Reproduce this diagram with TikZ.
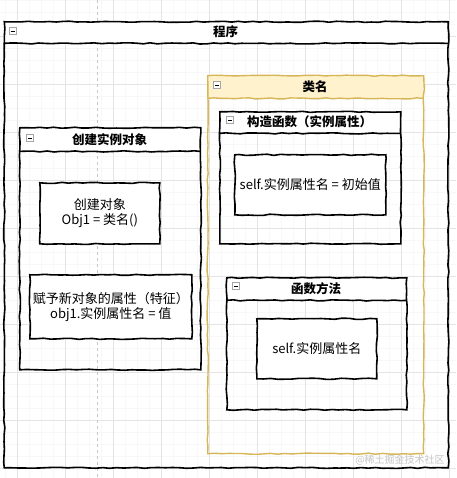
\documentclass[tikz,border=0pt]{standalone}
\usepackage{fontspec}
\setmainfont{Noto Sans CJK SC}
\definecolor{gridminor}{HTML}{F8F8F8}
\definecolor{gridmajor}{HTML}{E4E4E4}
\definecolor{laneyellow}{HTML}{D6B656}
\definecolor{headyellow}{HTML}{FFF2CC}
\usetikzlibrary{decorations.pathmorphing, positioning}
\tikzset{
	sketch/.style={decorate, decoration={random steps, segment length=7pt, amplitude=0.6pt}},
	lane/.style={rectangle, sketch, draw=black, line width=1.6pt, anchor=north west, inner sep=0pt},
	lanehead/.style={rectangle, fill=white, anchor=north west, inner sep=0pt, font=\bfseries\fontsize{12.5}{14}\selectfont},
	itembox/.style={rectangle, sketch, draw=black, line width=1.6pt, fill=white, anchor=north west, align=center, inner sep=0pt, font=\fontsize{13}{15.5}\selectfont},
	minus/.style={rectangle, draw=gray!70, fill=white, line width=0.5pt, minimum size=7pt, inner sep=0pt,
		path picture={\draw[black, line width=0.7pt] ([xshift=1.5pt]path picture bounding box.west) -- ([xshift=-1.5pt]path picture bounding box.east);}},
	divider/.style={sketch, line width=1.6pt},
}

\begin{document}
\begin{tikzpicture}[x=1pt, y=-1pt]
		\pgfmathsetseed{11}
		\useasboundingbox[fill=white] (0,0) rectangle (456,478);
		% grid
		\foreach \x in {5,17,...,453} \draw[gridminor, line width=0.6pt] (\x,0) -- (\x,478);
		\foreach \y in {0,12,...,476} \draw[gridminor, line width=0.6pt] (0,\y) -- (456,\y);
		\foreach \x in {17,65,...,453} \draw[gridmajor, line width=0.6pt] (\x,0) -- (\x,478);
		\foreach \y in {36,84,...,476} \draw[gridmajor, line width=0.6pt] (0,\y) -- (456,\y);
		\draw[gray!45, line width=0.6pt, dash pattern=on 3pt off 3pt] (97,0) -- (97,478);

		% 程序
		\node[lanehead, minimum width=444pt, minimum height=22pt] (progh) at (3.5,21) {程序};
		\node[lane, minimum width=444pt, minimum height=446pt] (prog) at (3.5,21) {};
		\draw[divider] (progh.south west) -- (progh.south east);
		\node[minus] (progm) at (12.5,31) {};

		% 类名
		\node[lanehead, fill=headyellow, minimum width=216pt, minimum height=23pt] (clsh) at (207,75) {类名};
		\node[lane, draw=laneyellow, line width=1.4pt, minimum width=216pt, minimum height=378pt] (cls) at (207,75) {};
		\draw[divider, draw=laneyellow, line width=1.4pt] (clsh.south west) -- (clsh.south east);
		\node[minus] (clsm) at (217,85) {};

		% 构造函数
		\node[lanehead, minimum width=181pt, minimum height=22pt] (inith) at (219,111) {构造函数（实例属性）};
		\node[lane, minimum width=181pt, minimum height=132pt] (init) at (219,111) {};
		\draw[divider] (inith.south west) -- (inith.south east);
		\node[minus] (initm) at (230,120) {};
		\node[itembox, minimum width=151pt, minimum height=60pt] (initset) at (234,154) {self.实例属性名 = 初始值};

		% 函数方法
		\node[lanehead, minimum width=180pt, minimum height=23pt] (methh) at (226,277) {函数方法};
		\node[lane, minimum width=180pt, minimum height=132pt] (meth) at (226,277) {};
		\draw[divider] (methh.south west) -- (methh.south east);
		\node[minus] (methm) at (236,286) {};
		\node[itembox, minimum width=120pt, minimum height=60pt] (methuse) at (256,318) {self.实例属性名};

		% 创建实例对象
		\node[lanehead, minimum width=181pt, minimum height=24pt] (objh) at (19,127) {创建实例对象};
		\node[lane, minimum width=181pt, minimum height=242pt] (obj) at (19,127) {};
		\draw[divider] (objh.south west) -- (objh.south east);
		\node[minus] (objm) at (30,138) {};
		\node[itembox, minimum width=120pt, minimum height=61pt] (objnew) at (39,182) {创建对象\\Obj1 = 类名()};
		\node[itembox, minimum width=162pt, minimum height=64pt] (objattr) at (29,274) {赋予新对象的属性（特征）\\obj1.实例属性名 = 值};

		\node[text=gray!45, font=\fontsize{10}{12}\selectfont] (mark) at (400,460) {@稀土掘金技术社区};
	\end{tikzpicture}
\end{document}
